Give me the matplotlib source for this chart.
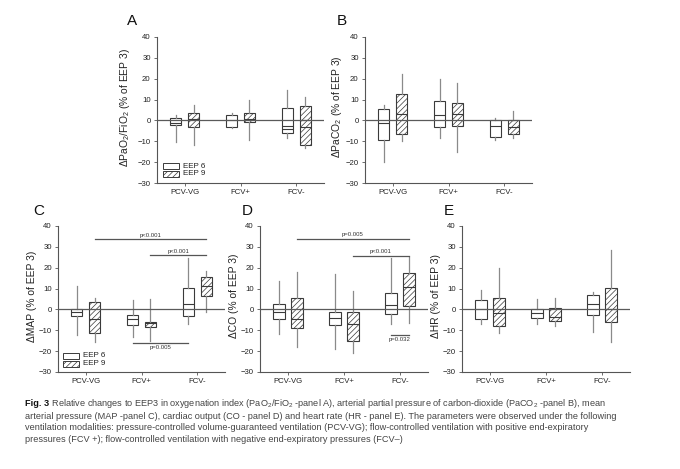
import numpy as np
import matplotlib
matplotlib.use('Agg')
import matplotlib.pyplot as plt
from matplotlib.patches import Rectangle

plt.rcParams['font.family'] = ['Liberation Sans', 'DejaVu Sans']
plt.rcParams['mathtext.fontset'] = 'custom'
plt.rcParams['mathtext.rm'] = 'Liberation Sans'
plt.rcParams['mathtext.it'] = 'Liberation Sans:italic'
plt.rcParams['mathtext.bf'] = 'Liberation Sans:bold'
plt.rcParams['hatch.linewidth'] = 0.5

# ---------------- data (whislo, q1, median, q3, whishi) ----------------
categories = ["PCV-VG", "FCV+", "FCV-"]
groups = ["EEP 6", "EEP 9"]

A_EEP6 = [(-10.2, -2.4, -1.1, 1.4, 2.5), (-3.5, -3.0, 0.0, 2.6, 3.4), (-8.6, -6.2, -2.8, 5.8, 14.6)]
A_EEP9 = [(-11.8, -3.2, 0.5, 3.8, 7.6), (-9.4, -0.6, 0.6, 3.5, 9.7), (-13.4, -11.8, -3.3, 7.1, 11.4)]
A_EEP6_MEAN = [np.nan, np.nan, -3.9]
A_EEP9_MEAN = [np.nan, np.nan, 0.0]

B_EEP6 = [(-20.0, -9.4, -1.4, 5.6, 7.6), (-8.4, -3.0, 2.7, 9.2, 19.7), (-9.4, -8.1, -2.9, 0.0, 1.0)]
B_EEP9 = [(-9.9, -6.7, 3.2, 12.7, 22.1), (-15.0, -2.5, 3.3, 8.4, 18.1), (-8.3, -6.7, -3.2, 0.2, 4.5)]

C_EEP6 = [(-12.1, -3.2, -1.3, 0.3, 11.0), (-13.3, -7.7, -4.8, -2.6, 4.6), (-6.9, -3.2, 2.7, 10.4, 24.8)]
C_EEP9 = [(-15.7, -11.5, -4.8, 3.4, 5.4), (-14.9, -8.6, -6.4, -5.8, 5.1), (-1.3, 6.4, 11.2, 15.5, 18.4)]

D_EEP6 = [(-11.6, -4.7, -1.1, 2.6, 13.8), (-18.8, -7.4, -4.2, -1.4, 17.0), (-7.0, -2.2, 2.2, 7.7, 24.7)]
D_EEP9 = [(-18.0, -9.0, -4.7, 5.5, 17.8), (-20.7, -15.1, -7.1, -1.1, 9.0), (-6.7, 1.8, 10.6, 17.3, 25.0)]

E_EEP6 = [(-6.8, -4.8, 0.0, 4.5, 9.3), (-7.2, -4.3, -1.9, 0.2, 5.0), (-10.8, -2.6, 2.4, 6.9, 8.2)]
E_EEP9 = [(-11.1, -7.9, -1.8, 5.3, 19.8), (-8.0, -5.5, -3.5, 0.6, 5.5), (-15.5, -6.1, 0.2, 10.1, 28.3)]

# significance brackets: (from, to, y, label, label side)
C_SIG = [(1.16, 3.16, 33.6, "p<0.001", "above"),
         (2.16, 3.16, 26.2, "p<0.001", "above"),
         (1.84, 2.84, -16.0, "p=0.005", "below")]
D_SIG = [(1.16, 3.16, 33.9, "p=0.005", "above"),
         (2.16, 3.16, 25.8, "p<0.001", "above"),
         (2.84, 3.16, -12.4, "p=0.032", "below")]

yticks = [-30, -20, -10, 0, 10, 20, 30, 40]

caption_bold = "Fig. 3"
caption_lines = [
    " Relative changes to EEP3 in oxygenation index (PaO$_2$/FiO$_2$ -panel A), arterial partial pressure of carbon-dioxide (PaCO$_2$ -panel B), mean",
    "arterial pressure (MAP -panel C), cardiac output (CO - panel D) and heart rate (HR - panel E). The parameters were observed under the following",
    "ventilation modalities: pressure-controlled volume-guaranteed ventilation (PCV-VG); flow-controlled ventilation with positive end-expiratory",
    "pressures (FCV +); flow-controlled ventilation with negative end-expiratory pressures (FCV\u2013)",
]

# ---------------- figure ----------------
W, H = 680, 469
fig = plt.figure(figsize=(W / 100, H / 100), dpi=100)
fig.patch.set_facecolor('white')


def add_ax(x0, x1, y0, y1):
    return fig.add_axes([x0 / W, 1 - y1 / H, (x1 - x0) / W, (y1 - y0) / H])


EDGE = '#3a3a3a'
WHISK = '#8a8a8a'
AXC = '#555555'
OFF = 0.16
BW = 0.2


def to_stats(vals):
    out = []
    for lo, q1, med, q3, hi in vals:
        out.append(dict(whislo=lo, q1=q1, med=med, q3=q3, whishi=hi, fliers=[]))
    return out


def draw_panel(ax, eep6, eep9, ylabel, ylab_x, letter, letter_pos,
               legend=None, sig=None, mean6=None, mean9=None):
    pos = np.arange(1, len(categories) + 1)
    for data, shift, hatch in ((eep6, -OFF, None), (eep9, OFF, '//////')):
        bp = ax.bxp(to_stats(data), positions=pos + shift, widths=BW,
                    patch_artist=True, showfliers=False, showcaps=False,
                    boxprops=dict(facecolor='white', edgecolor=EDGE, linewidth=0.8),
                    whiskerprops=dict(color=WHISK, linewidth=0.9),
                    medianprops=dict(color=EDGE, linewidth=0.8),
                    manage_ticks=False)
        for b in bp['boxes']:
            if hatch:
                b.set_hatch(hatch)
            b.set_zorder(2)
    for means, shift in ((mean6, -OFF), (mean9, OFF)):
        if means is not None:
            for p, m in zip(pos, means):
                if np.isfinite(m):
                    ax.hlines(m, p + shift - BW / 2, p + shift + BW / 2, color=EDGE, lw=0.8, zorder=3)
    ax.axhline(0, color='#5a5a5a', lw=0.9, zorder=4)
    ax.set_xlim(0.5, 3.5)
    ax.set_ylim(-30, 40)
    ax.set_yticks(yticks)
    ax.set_xticks(pos)
    ax.set_xticklabels(categories)
    for s in ('top', 'right'):
        ax.spines[s].set_visible(False)
    for s in ('left', 'bottom'):
        ax.spines[s].set_color(AXC)
        ax.spines[s].set_linewidth(0.8)
    ax.tick_params(axis='both', labelsize=5.6, colors='#222222', length=2.5, width=0.6,
                   direction='out', pad=2)
    ax.tick_params(axis='both', color=AXC)
    ax.set_ylabel(ylabel, fontsize=7.4, color='#222222')
    ax.yaxis.set_label_coords(ylab_x, 0.52)
    ax.text(letter_pos[0], letter_pos[1], letter, transform=ax.transAxes,
            fontsize=11, ha='left', va='center', color='#111111')
    if legend is not None:
        lx0, lx1, ly1, ly2 = legend
        for yc, lab, hatch in ((ly1, groups[0], None), (ly2, groups[1], '//////')):
            r = Rectangle((lx0, yc - 0.02), lx1 - lx0, 0.04, transform=ax.transAxes,
                          facecolor='white', edgecolor=EDGE, linewidth=0.7, hatch=hatch,
                          clip_on=False)
            ax.add_patch(r)
            ax.text(lx1 + 0.025, yc, lab, transform=ax.transAxes, fontsize=5.8,
                    ha='left', va='center', color='#222222')
    if sig is not None:
        for x0, x1, y, lab, side in sig:
            ax.plot([x0, x1], [y, y], color='#555555', lw=0.9, clip_on=False)
            if side == 'above':
                ax.text((x0 + x1) / 2, y + 0.6, lab, fontsize=4.3, ha='center', va='bottom',
                        color='#333333')
            else:
                ax.text((x0 + x1) / 2, y - 0.9, lab, fontsize=4.3, ha='center', va='top',
                        color='#333333')


axA = add_ax(157, 324, 37, 183)
axB = add_ax(365, 532, 37, 183)
axC = add_ax(58, 225, 226, 372)
axD = add_ax(260, 428, 226, 372)
axE = add_ax(462, 630, 226, 372)

draw_panel(axA, A_EEP6, A_EEP9, r'ΔPaO$_2$/FiO$_2$ (% of EEP 3)', -0.15, 'A', (-0.18, 1.11),
           legend=(0.036, 0.132, 0.116, 0.062), mean6=A_EEP6_MEAN, mean9=A_EEP9_MEAN)
draw_panel(axB, B_EEP6, B_EEP9, r'ΔPaCO$_2$ (% of EEP 3)', -0.125, 'B', (-0.17, 1.11))
draw_panel(axC, C_EEP6, C_EEP9, 'ΔMAP (% of EEP 3)', -0.125, 'C', (-0.15, 1.10),
           legend=(0.03, 0.126, 0.11, 0.055), sig=C_SIG)
draw_panel(axD, D_EEP6, D_EEP9, 'ΔCO (% of EEP 3)', -0.125, 'D', (-0.11, 1.10), sig=D_SIG)
draw_panel(axE, E_EEP6, E_EEP9, 'ΔHR (% of EEP 3)', -0.125, 'E', (-0.11, 1.10))

# ---------------- caption ----------------
cap_x = 25
cap_y = [404, 416, 427.5, 439]
fs = 6.6
tb = fig.text(cap_x / W, 1 - cap_y[0] / H, caption_bold, fontsize=fs, fontweight='bold',
              color='#111111', ha='left', va='center')
fig.canvas.draw()
bb = tb.get_window_extent(renderer=fig.canvas.get_renderer())
fig.text(bb.x1 / W, 1 - cap_y[0] / H, caption_lines[0], fontsize=fs, color='#444444',
         ha='left', va='center')
for y, line in zip(cap_y[1:], caption_lines[1:]):
    fig.text(cap_x / W, 1 - y / H, line, fontsize=fs, color='#444444', ha='left', va='center')

fig.savefig('out.png', dpi=100, facecolor='white')
